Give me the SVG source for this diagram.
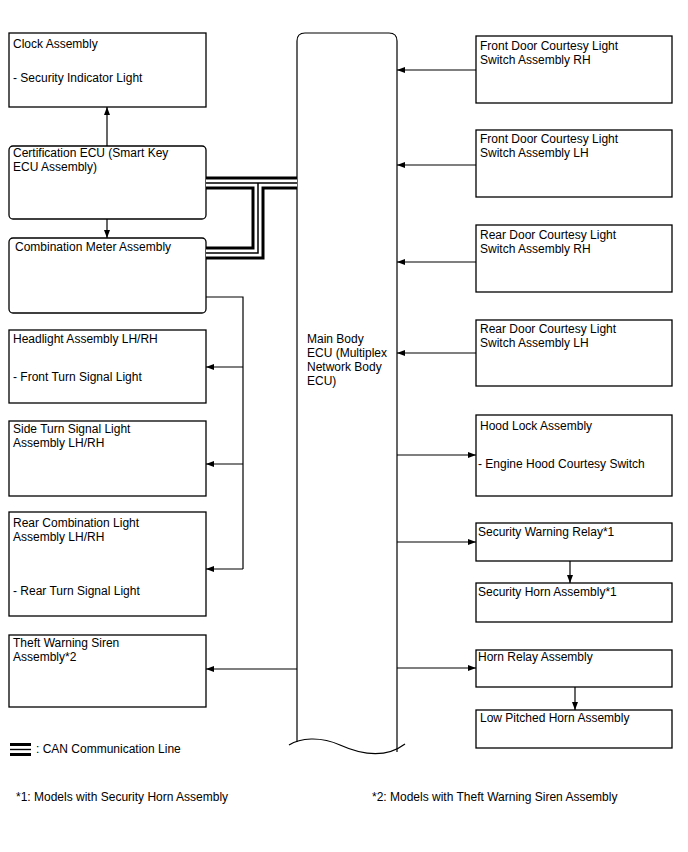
<svg xmlns="http://www.w3.org/2000/svg" width="688" height="852" viewBox="0 0 688 852">
<defs>
<marker id="ah" viewBox="0 0 8 6" refX="8" refY="3" markerWidth="8" markerHeight="6" markerUnits="userSpaceOnUse" orient="auto">
<path d="M0,0 L8,3 L0,6 z" fill="#000"/>
</marker>
<style>
.box{fill:#fff;stroke:#000;stroke-width:1.3}
.t{font-family:"Liberation Sans",Arial,sans-serif;font-size:12px;fill:#000}
.c{fill:none;stroke:#000;stroke-width:1.2}
.a{marker-end:url(#ah)}
.can1{fill:none;stroke:#000;stroke-width:13}
.can2{fill:none;stroke:#fff;stroke-width:7}
.can3{fill:none;stroke:#000;stroke-width:1.5}
</style>
</defs>
<rect width="688" height="852" fill="#fff"/>

<g id="main-body-ecu">
<path class="c" d="M297,742 V41 Q297,33 305,33 H389 Q397,33 397,41 V752" stroke-width="1.3"/>
<path class="c" d="M289,745 C300,738 320,736 340,745 C360,754 385,759 405,744" stroke-width="1.3"/>
<text class="t" x="307" y="343">Main Body</text>
<text class="t" x="307" y="357">ECU (Multiplex</text>
<text class="t" x="307" y="371">Network Body</text>
<text class="t" x="307" y="385">ECU)</text>
</g>

<g id="clock-assembly">
<rect class="box" x="9" y="33" width="197" height="74"/>
<text class="t" x="13" y="48">Clock Assembly</text>
<text class="t" x="13" y="82">- Security Indicator Light</text>
</g>
<g id="certification-ecu">
<rect class="box" x="9" y="146" width="197" height="73" rx="4"/>
<text class="t" x="13" y="157">Certification ECU (Smart Key</text>
<text class="t" x="13" y="171">ECU Assembly)</text>
</g>
<g id="combination-meter">
<rect class="box" x="9" y="238" width="197" height="75" rx="4"/>
<text class="t" x="15" y="251">Combination Meter Assembly</text>
</g>
<g id="headlight-assembly">
<rect class="box" x="9" y="330" width="197" height="73"/>
<text class="t" x="13" y="343">Headlight Assembly LH/RH</text>
<text class="t" x="13" y="381">- Front Turn Signal Light</text>
</g>
<g id="side-turn-signal">
<rect class="box" x="9" y="421" width="197" height="75"/>
<text class="t" x="13" y="433">Side Turn Signal Light</text>
<text class="t" x="13" y="447">Assembly LH/RH</text>
</g>
<g id="rear-combination-light">
<rect class="box" x="9" y="512" width="197" height="104"/>
<text class="t" x="13" y="527">Rear Combination Light</text>
<text class="t" x="13" y="541">Assembly LH/RH</text>
<text class="t" x="13" y="595">- Rear Turn Signal Light</text>
</g>
<g id="theft-warning-siren">
<rect class="box" x="9" y="635" width="197" height="72"/>
<text class="t" x="13" y="647">Theft Warning Siren</text>
<text class="t" x="13" y="661">Assembly*2</text>
</g>

<g id="front-door-rh">
<rect class="box" x="476" y="36" width="196" height="67"/>
<text class="t" x="480" y="50">Front Door Courtesy Light</text>
<text class="t" x="480" y="64">Switch Assembly RH</text>
</g>
<g id="front-door-lh">
<rect class="box" x="476" y="130" width="196" height="67"/>
<text class="t" x="480" y="143">Front Door Courtesy Light</text>
<text class="t" x="480" y="157">Switch Assembly LH</text>
</g>
<g id="rear-door-rh">
<rect class="box" x="476" y="225" width="196" height="67"/>
<text class="t" x="480" y="239">Rear Door Courtesy Light</text>
<text class="t" x="480" y="253">Switch Assembly RH</text>
</g>
<g id="rear-door-lh">
<rect class="box" x="476" y="320" width="196" height="66"/>
<text class="t" x="480" y="333">Rear Door Courtesy Light</text>
<text class="t" x="480" y="347">Switch Assembly LH</text>
</g>
<g id="hood-lock">
<rect class="box" x="476" y="415" width="196" height="81"/>
<text class="t" x="480" y="430">Hood Lock Assembly</text>
<text class="t" x="478" y="468">- Engine Hood Courtesy Switch</text>
</g>
<g id="security-warning-relay">
<rect class="box" x="476" y="523" width="196" height="38"/>
<text class="t" x="478" y="536">Security Warning Relay*1</text>
</g>
<g id="security-horn">
<rect class="box" x="476" y="583" width="196" height="39"/>
<text class="t" x="478" y="596">Security Horn Assembly*1</text>
</g>
<g id="horn-relay">
<rect class="box" x="476" y="650" width="196" height="37"/>
<text class="t" x="478" y="661">Horn Relay Assembly</text>
</g>
<g id="low-pitched-horn">
<rect class="box" x="476" y="710" width="196" height="38"/>
<text class="t" x="480" y="722">Low Pitched Horn Assembly</text>
</g>

<g id="connectors">
<path class="can1" d="M206,183 H297 M258,183 V253 H206"/>
<path class="can2" d="M206,183 H297 M258,183 V253 H206"/>
<path class="can3" d="M206,183 H297 M258,183 V253 H206"/>
<path class="c a" d="M107,146 V107"/>
<path class="c a" d="M107,219 V238"/>
<path class="c" d="M206,297 H243 V569"/>
<path class="c a" d="M243,367 H206"/>
<path class="c a" d="M243,464 H206"/>
<path class="c a" d="M243,569 H206"/>
<path class="c a" d="M297,669 H206"/>
<path class="c a" d="M476,70 H397"/>
<path class="c a" d="M476,165 H397"/>
<path class="c a" d="M476,262 H397"/>
<path class="c a" d="M476,353 H397"/>
<path class="c a" d="M397,455 H476"/>
<path class="c a" d="M397,542 H476"/>
<path class="c a" d="M397,668 H476"/>
<path class="c a" d="M570,561 V583"/>
<path class="c a" d="M575,687 V710"/>
</g>

<g id="legend">
<rect x="10" y="743" width="21" height="13" fill="#000"/>
<rect x="10" y="746" width="21" height="2.8" fill="#fff"/>
<rect x="10" y="750.2" width="21" height="2.8" fill="#fff"/>
<text class="t" x="36" y="753">: CAN Communication Line</text>
<text class="t" x="16" y="801">*1: Models with Security Horn Assembly</text>
<text class="t" x="372" y="801">*2: Models with Theft Warning Siren Assembly</text>
</g>
</svg>
